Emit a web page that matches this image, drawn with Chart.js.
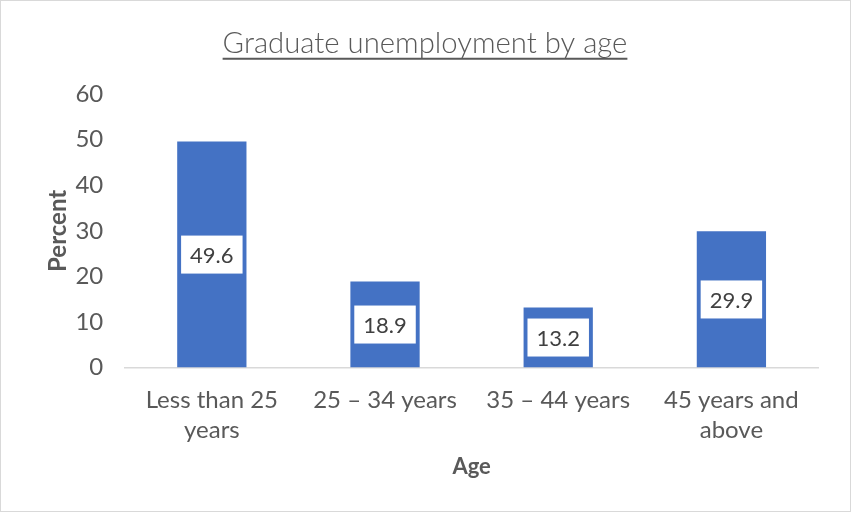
<!DOCTYPE html>
<html>
<head>
<meta charset="utf-8">
<script src="https://cdn.jsdelivr.net/npm/chart.js@4"></script>
<style>
  body { margin: 0; background: #fff; }
  .chart-box {
    width: 849px; height: 510px;
    border: 1px solid #d9d9d9;
    position: relative;
  }
</style>
</head>
<body>
<div class="chart-box"><canvas id="ageChart"></canvas></div>
<script>
// data
const categories = [['Less than 25', 'years'], '25 \u2013 34 years', '35 \u2013 44 years', ['45 years and', 'above']];
const percentValues = [49.6, 18.9, 13.2, 29.9];
const yTicks = [0, 10, 20, 30, 40, 50, 60];

const textGrey = '#595959';
const titleText = 'Graduate unemployment by age';
const titleSize = 29.3;
const titlePadTop = 19;

// white label boxes centred inside each bar
const barLabels = {
    id: 'barLabels',
    afterDatasetsDraw(chart) {
        const ctx = chart.ctx;
        const meta = chart.getDatasetMeta(0);
        ctx.save();
        ctx.font = '22px Lato';
        ctx.textAlign = 'center';
        ctx.textBaseline = 'middle';
        meta.data.forEach((bar, i) => {
            const txt = percentValues[i].toFixed(1);
            const cy = (bar.y + bar.base) / 2;
            const w = ctx.measureText(txt).width + 18;
            const h = 38;
            ctx.fillStyle = '#fff';
            ctx.fillRect(bar.x - w / 2, cy - h / 2, w, h);
            ctx.fillStyle = '#404040';
            ctx.fillText(txt, bar.x, cy + 1);
        });
        ctx.restore();
    }
};

// underline under the title
const titleUnderline = {
    id: 'titleUnderline',
    afterDraw(chart) {
        const tb = chart.titleBlock;
        if (!tb) return;
        const ctx = chart.ctx;
        ctx.save();
        ctx.font = '300 ' + titleSize + 'px Lato';
        const w = ctx.measureText(titleText).width;
        const cx = (tb.left + tb.right) / 2;
        const y = tb.top + titlePadTop + titleSize * 1.12;
        ctx.strokeStyle = textGrey;
        ctx.lineWidth = 2;
        ctx.beginPath();
        ctx.moveTo(cx - w / 2, y);
        ctx.lineTo(cx + w / 2, y);
        ctx.stroke();
        ctx.restore();
    }
};

const ctx = document.getElementById('ageChart').getContext('2d');
new Chart(ctx, {
    type: 'bar',
    data: {
        labels: categories,
        datasets: [{
            data: percentValues,
            backgroundColor: '#4472c4',
            barPercentage: 0.5,
            categoryPercentage: 0.8
        }]
    },
    options: {
        responsive: true,
        maintainAspectRatio: false,
        animation: false,
        layout: { padding: { left: 31, right: 32, top: 6, bottom: 27 } },
        plugins: {
            legend: { display: false },
            tooltip: { enabled: false },
            title: {
                display: true,
                text: titleText,
                color: textGrey,
                font: { family: 'Lato', size: titleSize, weight: '300' },
                padding: { top: titlePadTop, bottom: 33 }
            }
        },
        scales: {
            y: {
                min: 0,
                max: 60,
                afterBuildTicks: axis => { axis.ticks = yTicks.map(v => ({ value: v })); },
                grid: { display: false, drawTicks: false },
                border: { display: false },
                ticks: { color: textGrey, font: { family: 'Lato', size: 24 }, padding: 22 },
                title: {
                    display: true,
                    text: 'Percent',
                    color: textGrey,
                    font: { family: 'Lato', size: 24, weight: 'bold' },
                    padding: { top: 12, bottom: -19.4 }
                }
            },
            x: {
                grid: { display: false },
                border: { display: true, color: '#d9d9d9', width: 1.5 },
                ticks: { color: textGrey, font: { family: 'Lato', size: 24, lineHeight: 1.25 }, padding: 10, maxRotation: 0 },
                title: {
                    display: true,
                    text: 'Age',
                    color: textGrey,
                    font: { family: 'Lato', size: 22, weight: 'bold' },
                    padding: { top: -2 }
                }
            }
        }
    },
    plugins: [barLabels, titleUnderline]
});
</script>
</body>
</html>
